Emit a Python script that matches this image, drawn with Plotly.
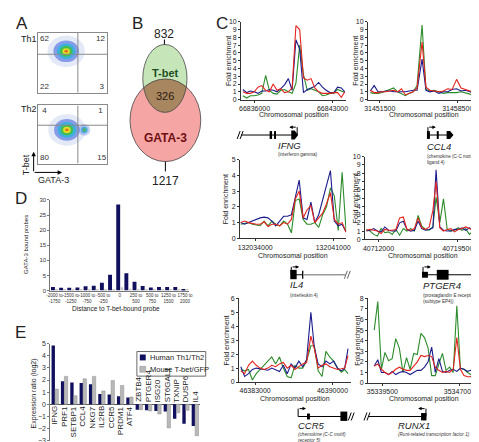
import numpy as np
import plotly.graph_objects as go

W, H = 479, 442
FONT = "Liberation Sans"


def X(p):
    return p / W


def Y(p):
    return 1 - p / H


# ---------------------------------------------------------------- data
# A: flow cytometry quadrant percentages (UL, UR, LL, LR)
th1_quadrants = [62, 12, 22, 3]
th2_quadrants = [4, 1, 80, 15]

# B: Venn counts
venn_tbet_only = 832
venn_overlap = 326
venn_gata3_only = 1217

# C: ChIP-chip fold enrichment (blue / red / green replicates)
ifng_pos = [66834950, 66835290, 66835630, 66835970, 66836310, 66836650, 66836990, 66837330,
            66837670, 66838010, 66838350, 66838690, 66839030, 66839370, 66839710, 66840050,
            66840390, 66840730, 66841070, 66841410, 66841750, 66842090, 66842430, 66842770,
            66843110, 66843450, 66843790, 66844100]
ifng_blue = [1.3, 0.9, 1.1, 1.0, 0.8, 1.1, 1.1, 1.3, 1.2, 1.0, 1.4, 1.9, 2.7, 1.2, 7.7, 6.5,
             0.9, 1.3, 1.5, 1.7, 2.2, 1.6, 1.2, 0.9, 0.9, 1.6, 1.5, 1.0]
ifng_red = [1.0, 0.8, 0.8, 1.0, 1.6, 1.8, 1.2, 1.0, 2.0, 1.2, 1.4, 0.9, 1.0, 1.5, 9.5, 9.0,
            2.8, 2.5, 2.7, 1.5, 1.0, 0.8, 0.8, 0.8, 0.9, 0.9, 0.3, 1.0]
ifng_green = [0.5, 0.2, 0.5, 0.5, 0.6, 0.8, 3.1, 1.2, 0.8, 0.7, 1.2, 1.3, 1.0, 0.8, 2.1, 7.0,
              3.2, 1.2, 1.4, 1.2, 1.0, 0.5, 0.6, 0.8, 0.8, 1.3, 1.1, 0.9]

ccl4_pos = [31450650, 31451000, 31451350, 31451700, 31452050, 31452400, 31452750, 31453100,
            31453450, 31453800, 31454150, 31454500, 31454850, 31455300, 31455650, 31456000,
            31456400, 31456800, 31457200, 31457600, 31458000, 31458400, 31458800, 31459200,
            31459600, 31460000, 31460400]
ccl4_blue = [1.1, 1.8, 1.0, 1.0, 1.1, 1.1, 1.0, 1.0, 1.0, 1.0, 1.1, 1.2, 1.2, 5.2, 1.2, 1.0,
             1.1, 0.8, 1.0, 1.0, 1.3, 1.4, 1.1, 1.2, 1.0, 0.8, 1.0]
ccl4_red = [1.2, 0.9, 0.9, 1.0, 1.0, 1.1, 1.2, 1.0, 1.4, 0.6, 0.8, 1.0, 1.5, 7.4, 1.6, 1.2,
            1.1, 1.0, 1.1, 1.4, 1.3, 2.6, 1.5, 1.3, 1.0, 0.9, 1.2]
ccl4_green = [0.9, 0.8, 0.8, 0.9, 1.1, 1.3, 1.5, 1.0, 0.8, 0.5, 0.8, 1.0, 1.8, 9.6, 1.3, 1.1,
              1.2, 1.0, 0.8, 0.9, 0.9, 0.9, 1.0, 0.8, 0.7, 0.6, 0.3]

il4_pos = [132032700, 132033050, 132033400, 132033750, 132034100, 132034450, 132034800,
           132035150, 132035500, 132035850, 132036200, 132036550, 132036900, 132037250,
           132037600, 132037950, 132038300, 132038650, 132039000, 132039350, 132039700,
           132040050, 132040400, 132040750, 132041100, 132041450, 132041800, 132042150]
il4_blue = [1.0, 0.9, 1.0, 1.1, 1.2, 1.3, 1.35, 1.3, 1.1, 0.8, 1.1, 1.4, 1.4, 1.5, 2.6, 3.7,
            1.3, 1.2, 2.3, 1.0, 1.5, 2.5, 3.4, 4.3, 1.1, 0.8, 0.9, 0.4]
il4_red = [1.0, 1.1, 1.0, 0.95, 0.9, 0.9, 1.05, 0.75, 0.9, 0.9, 0.8, 1.0, 0.9, 1.2, 2.5, 3.0,
           1.3, 1.8, 2.1, 1.0, 1.3, 1.6, 2.2, 2.9, 1.2, 0.9, 1.0, 0.4]
il4_green = [0.9, 0.95, 1.0, 0.9, 0.85, 0.8, 1.1, 0.8, 1.1, 0.9, 0.8, 1.1, 0.9, 0.35, 2.4, 2.5,
             1.2, 0.9, 0.9, 1.0, 0.7, 1.5, 2.0, 3.2, 2.7, 0.5, 4.2, 0.5]

ptger4_pos = [40710850, 40711200, 40711550, 40711900, 40712250, 40712600, 40712950, 40713300,
              40713650, 40714000, 40714350, 40714700, 40715050, 40715400, 40715750, 40716100,
              40716450, 40716800, 40717150, 40717450, 40717800, 40718150, 40718500, 40718850,
              40719200, 40719550, 40719900, 40720250, 40720600, 40720950, 40721300]
ptger4_blue = [1.0, 1.1, 1.3, 1.0, 0.9, 1.5, 1.1, 1.0, 1.0, 2.0, 2.2, 1.2, 1.0, 1.1, 2.2, 1.3,
               1.1, 1.2, 1.4, 8.4, 1.5, 1.1, 1.0, 1.0, 1.2, 1.2, 1.4, 1.1, 1.4, 1.2, 1.3]
ptger4_red = [1.1, 1.2, 1.1, 1.0, 0.7, 1.2, 1.1, 1.1, 1.2, 2.6, 2.7, 1.2, 1.1, 1.3, 2.6, 1.4,
              1.2, 1.5, 3.5, 7.0, 1.4, 1.0, 1.2, 1.3, 0.9, 1.2, 1.3, 1.5, 1.3, 1.1, 1.4]
ptger4_green = [1.2, 1.0, 0.6, 0.4, 1.3, 0.8, 0.9, 0.6, 1.2, 0.5, 1.3, 1.0, 1.3, 1.0, 2.9, 1.6,
                1.2, 1.1, 1.5, 5.1, 2.0, 4.9, 1.2, 1.0, 1.1, 1.4, 1.1, 1.3, 0.6, 1.0, 0.5]

ccr5_pos = [46381700, 46382050, 46382400, 46382750, 46383100, 46383450, 46383800, 46384150,
            46384500, 46384850, 46385200, 46385550, 46385900, 46386250, 46386600, 46386950,
            46387300, 46387650, 46388040, 46388350, 46388700, 46389050, 46389400, 46389750,
            46390100, 46390450, 46390800, 46391100, 46391400]
ccr5_blue = [1.1, 0.4, 0.6, 0.9, 1.0, 0.95, 0.9, 0.85, 1.0, 0.9, 0.75, 1.2, 0.6, 1.3, 1.0, 1.5,
             1.1, 1.6, 5.0, 2.5, 1.3, 1.1, 1.5, 1.3, 1.5, 1.0, 0.8, 1.0, 2.4]
ccr5_red = [0.8, 0.6, 1.2, 1.5, 1.2, 1.0, 0.9, 1.0, 1.2, 1.1, 1.3, 1.4, 1.0, 1.2, 0.9, 1.1,
            1.3, 1.4, 3.3, 2.4, 1.0, 1.2, 1.3, 1.1, 1.0, 0.9, 0.95, 1.0, 1.9]
ccr5_green = [0.9, 0.8, 0.9, 0.15, 0.6, 0.9, 1.2, 1.5, 1.8, 1.3, 1.8, 1.0, 0.4, 0.3, 1.2, 1.0,
              1.0, 1.5, 2.6, 2.6, 0.8, 0.4, 2.2, 1.8, 1.5, 1.0, 0.7, 0.9, 0.6]

runx1_pos = [35338700, 35339050, 35339400, 35339750, 35340100, 35340450, 35340800, 35341150,
             35341500, 35341850, 35342200, 35342550, 35342900, 35343250, 35343600, 35343950,
             35344300, 35344650, 35345000, 35345350, 35345700, 35346050, 35346400, 35346750,
             35347100, 35347450, 35347800, 35348100, 35348400, 35348700]
runx1_blue = [1.6, 2.2, 1.0, 1.0, 0.8, 1.1, 0.8, 1.0, 1.1, 1.0, 0.8, 1.0, 1.2, 1.2, 1.5, 2.0,
              3.4, 1.0, 2.3, 1.1, 1.0, 1.2, 1.3, 1.1, 1.4, 1.3, 1.1, 1.2, 1.0, 1.0]
runx1_red = [1.6, 1.8, 1.3, 1.0, 0.8, 1.0, 1.3, 1.5, 1.3, 1.2, 1.2, 1.6, 2.0, 2.6, 2.5, 2.6,
             2.5, 1.5, 1.2, 1.0, 1.1, 1.0, 1.3, 4.3, 1.3, 0.7, 0.6, 0.6, 0.9, 1.0]
runx1_green = [5.0, 7.7, 1.3, 2.9, 2.1, 2.3, 4.2, 3.3, 1.0, 2.4, 1.3, 2.8, 2.7, 4.7, 4.3, 3.3,
               0.7, 0.7, 1.8, 2.8, 1.2, 1.5, 1.0, 7.3, 1.4, 1.3, 1.0, 0.8, 0.7, 0.5]

# D: distance histogram
d_bins = ["-2000 to -1750", "-1750 to -1500", "-1500 to -1250", "-1250 to -1000",
          "-1000 to -750", "-750 to -500", "-500 to -250", "-250 to 0", "0",
          "0 to 250", "250 to 500", "500 to 750", "750 to 1000", "1000 to 1250",
          "1250 to 1500", "1500 to 1750", "1750 to 2000"]
gata3_bound_pct = [1.2, 0.9, 0.9, 1.0, 1.4, 1.6, 2.6, 5.2, 28.5, 5.7, 2.9, 1.5, 1.0, 1.2, 1.2, 1.2, 0.5]
control_pct = [0.2, 0.2, 0.2, 0.2, 0.2, 0.2, 0.3, 0.3, 1.1, 0.6, 0.3, 0.2, 0.2, 0.2, 0.2, 0.2, 0.2]
d_tick_labels = ["-2000 to<br>-1750", "-1500 to<br>-1250", "-1000 to<br>-750", "-500 to<br>-250", "0",
                 "250 to<br>500", "500 to<br>750", "1250 to<br>1500", "1750 to<br>2000"]

# E: expression ratios
e_genes = ["IFNG", "PRF1", "SETBP1", "CCL4", "NKG7", "IL2RB", "CCR5", "PRDM1", "ATF4",
           "ZBTB4", "PTGER4", "ISG20", "ST6GAL1", "TXNIP", "DUSP6", "IL4"]
human_th1_th2 = [4.85, 1.9, 1.8, 1.75, 1.65, 0.85, 0.8, 0.65, 0.55,
                 -0.45, -0.5, -0.55, -0.6, -1.2, -1.6, -1.8]
mouse_tbet_gfp = [1.25, 2.3, 0.7, 2.1, 2.3, 1.1, 1.95, 1.55, 0.6,
                  -0.45, -0.55, -0.8, -1.95, -0.7, -0.5, -2.6]

# ---------------------------------------------------------------- styles
BLUE, RED, GREEN = "#1c1c8c", "#e3241d", "#2b8c2b"
NAVY, GRAY = "#10105f", "#b8b8b8"

fig = go.Figure()
layout = dict(width=W, height=H, margin=dict(l=0, r=0, t=0, b=0),
              paper_bgcolor="white", plot_bgcolor="white", showlegend=False,
              font=dict(family=FONT, color="#222"))
shapes, anns = [], []


def ann(x, y, text, size=7, xanchor="center", yanchor="middle", angle=0, color="#222"):
    return dict(x=X(x), y=Y(y), xref="paper", yref="paper", text=text, showarrow=False,
                xanchor=xanchor, yanchor=yanchor, textangle=angle, borderpad=0,
                font=dict(size=size, color=color, family=FONT))


def arrow(xh, yh, xt, yt, size=0.8):
    return dict(x=X(xh), y=Y(yh), xref="paper", yref="paper", ax=xt - xh, ay=yt - yh,
                axref="pixel", ayref="pixel", showarrow=True, arrowhead=2, arrowsize=size,
                arrowwidth=1, arrowcolor="black", text="")


def seg(x0, y0, x1, y1, color="black", w=1):
    shapes.append(dict(type="line", xref="paper", yref="paper", x0=X(x0), y0=Y(y0),
                       x1=X(x1), y1=Y(y1), line=dict(color=color, width=w)))


def box(x0, y0, x1, y1, fill="black"):
    shapes.append(dict(type="rect", xref="paper", yref="paper", x0=X(x0), y0=Y(y0),
                       x1=X(x1), y1=Y(y1), fillcolor=fill, line=dict(width=0)))


def poly(pts, fill="black"):
    path = "M " + " L ".join(f"{X(a):.5f},{Y(b):.5f}" for a, b in pts) + " Z"
    shapes.append(dict(type="path", xref="paper", yref="paper", path=path,
                       fillcolor=fill, line=dict(width=0)))


def brk(x, y, color="black"):
    seg(x - 2, y + 4, x + 1, y - 4, color)
    seg(x + 1, y + 4, x + 4, y - 4, color)


def tss(x, y, d):
    seg(x, y, x, y - 8)
    anns.append(arrow(x + d * 8, y - 8, x, y - 8, size=0.7))


# ---------------------------------------------------------------- A
def flow_panel(n, top, bottom, quad, hline, blobs):
    xk = "xaxis" if n == 1 else f"xaxis{n}"
    yk = "yaxis" if n == 1 else f"yaxis{n}"
    xr = "x" if n == 1 else f"x{n}"
    yr = "y" if n == 1 else f"y{n}"
    layout[xk] = dict(domain=[X(26), X(97)], range=[0, 1], anchor=yr,
                      showline=True, mirror=True, linecolor="#8a8a8a", linewidth=1,
                      showticklabels=False, ticks="", showgrid=False, zeroline=False)
    layout[yk] = dict(domain=[Y(bottom), Y(top)], range=[0, 1], anchor=xr,
                      showline=True, mirror=True, linecolor="#8a8a8a", linewidth=1,
                      showticklabels=False, ticks="", showgrid=False, zeroline=False)
    hpx = bottom - top
    for cx, cy, layers in blobs:
        for rxp, ryp, col in layers:
            shapes.append(dict(type="circle", xref=xr, yref=yr,
                               x0=cx - rxp / 71, x1=cx + rxp / 71,
                               y0=cy - ryp / hpx, y1=cy + ryp / hpx,
                               fillcolor=col, line=dict(width=0), layer="below"))
    shapes.append(dict(type="line", xref=xr, yref=yr, x0=0.577, x1=0.577, y0=0, y1=1,
                       line=dict(color="#8a8a8a", width=1)))
    shapes.append(dict(type="line", xref=xr, yref=yr, x0=0, x1=1, y0=hline, y1=hline,
                       line=dict(color="#8a8a8a", width=1)))
    fig.add_trace(go.Scatter(
        x=[0.1, 0.9, 0.1, 0.92], y=[0.9, 0.9, 0.09, 0.09], mode="text",
        text=[str(v) for v in quad], textfont=dict(size=8, color="#333", family=FONT),
        xaxis=xr, yaxis=yr, hoverinfo="skip"))


blob_layers = [(19, 16, "rgba(90,120,210,0.16)"), (13, 11, "rgba(40,80,215,0.5)"),
               (9.5, 8, "rgba(50,180,220,0.9)"), (6.5, 5.5, "rgba(70,190,70,0.95)"),
               (3.8, 3.2, "rgba(225,225,40,1)"), (1.8, 1.5, "rgba(230,110,30,1)")]
side_layers = [(6, 6, "rgba(60,100,220,0.3)"), (3.5, 3.5, "rgba(50,170,220,0.8)"),
               (1.8, 1.8, "rgba(80,190,80,0.9)")]
flow_panel(1, 21, 82, th1_quadrants, 0.64, [(0.41, 0.69, blob_layers)])
flow_panel(2, 95, 154, th2_quadrants, 0.66,
           [(0.67, 0.58, side_layers), (0.42, 0.58, blob_layers)])

anns += [ann(10, 12, "A", 17), ann(17, 27, "Th1", 9), ann(17, 99, "Th2", 9),
         ann(14, 155, "T-bet", 9, angle=-90), ann(42, 171, "GATA-3", 9),
         arrow(22, 142, 22, 163, 0.9), arrow(51, 163, 22, 163, 0.9)]

# ---------------------------------------------------------------- B (Venn)
t = np.linspace(0, 2 * np.pi, 721)
g_c, g_r = (155.5, 67.5), (22.5, 34.5)
r_c, r_r = (156.0, 110.0), (36.0, 42.0)
gx, gy = g_c[0] + g_r[0] * np.cos(t), g_c[1] + g_r[1] * np.sin(t)
rx, ry = r_c[0] + r_r[0] * np.cos(t), r_c[1] + r_r[1] * np.sin(t)
in_red = ((gx - r_c[0]) / r_r[0]) ** 2 + ((gy - r_c[1]) / r_r[1]) ** 2 <= 1
in_green = ((rx - g_c[0]) / g_r[0]) ** 2 + ((ry - g_c[1]) / g_r[1]) ** 2 <= 1
lx = np.concatenate([gx[in_red], rx[in_green]])
ly = np.concatenate([gy[in_red], ry[in_green]])
order = np.argsort(np.arctan2(ly - ly.mean(), lx - lx.mean()))


def ellipse(c, r, fill, line_w=0.0):
    shapes.append(dict(type="circle", xref="paper", yref="paper",
                       x0=X(c[0] - r[0]), x1=X(c[0] + r[0]),
                       y0=Y(c[1] + r[1]), y1=Y(c[1] - r[1]),
                       fillcolor=fill, line=dict(color="#444", width=line_w)))


ellipse(r_c, r_r, "#f6a5a5")
ellipse(g_c, g_r, "#c6e6b9")
poly(list(zip(lx[order], ly[order])), fill="#a8865f")
ellipse(r_c, r_r, "rgba(0,0,0,0)", 0.8)
ellipse(g_c, g_r, "rgba(0,0,0,0)", 0.8)
seg(155, 28, 155, 33)
seg(156, 152, 156, 162)
anns += [ann(128, 12, "B", 17),
         ann(155, 22, str(venn_tbet_only), 12),
         ann(156, 62, "<b>T-bet</b>", 11, color="#1d4d1d"),
         ann(156, 85, str(venn_overlap), 11, color="#2a1a10"),
         ann(156, 128, "<b>GATA-3</b>", 12, color="#6e0f12"),
         ann(156, 172, str(venn_gata3_only), 12)]

# ---------------------------------------------------------------- C
panels = [
    (ifng_pos, ifng_blue, ifng_red, ifng_green, [66834791, 66844236], [66836000, 66843000], 10, (233, 340), (10, 89), 220, 105),
    (ccl4_pos, ccl4_blue, ccl4_red, ccl4_green, [31450440, 31460595], [31451500, 31458500], 10, (362, 477), (10, 89), 350, 105),
    (il4_pos, il4_blue, il4_red, il4_green, [132032650, 132042176], [132034000, 132041000], 5, (232, 340), (150, 230), 218, 248),
    (ptger4_pos, ptger4_blue, ptger4_red, ptger4_green, [40710726, 40721611], [40712000, 40719500], 10, (359, 476), (147, 231), 349, 248),
    (ccr5_pos, ccr5_blue, ccr5_red, ccr5_green, [46381551, 46391691], [46383000, 46390000], 6, (231, 345), (291, 376), 218, 393),
    (runx1_pos, runx1_blue, runx1_red, runx1_green, [35338092, 35349109], [35339500, 35347000], 8, (362, 477), (291, 377), 352, 393),
]
for k, (pos, b, r, g, xr, tv, ymax, dx, dy, ytx, xty) in enumerate(panels):
    n = 3 + k
    for ys, col in ((g, GREEN), (b, BLUE), (r, RED)):
        fig.add_trace(go.Scatter(x=pos, y=ys, mode="lines", line=dict(color=col, width=1.1),
                                 xaxis=f"x{n}", yaxis=f"y{n}", hoverinfo="skip"))
    layout[f"xaxis{n}"] = dict(domain=[X(dx[0]), X(dx[1])], range=xr, anchor=f"y{n}",
                               tickvals=tv, ticktext=[str(v) for v in tv],
                               showline=True, linecolor="#333", linewidth=1, ticks="outside",
                               ticklen=2, tickcolor="#333", tickfont=dict(size=7, color="#222"),
                               showgrid=False, zeroline=False)
    layout[f"yaxis{n}"] = dict(domain=[Y(dy[1]), Y(dy[0])], range=[0, ymax], anchor=f"x{n}",
                               tickvals=list(range(0, ymax + 1)),
                               showline=True, linecolor="#333", linewidth=1, ticks="outside",
                               ticklen=2, tickcolor="#333", tickfont=dict(size=7, color="#222"),
                               showgrid=False, zeroline=False)
    anns.append(ann(ytx, (dy[0] + dy[1]) / 2, "Fold enrichment", 7, angle=-90))
    anns.append(ann((dx[0] + dx[1]) / 2, xty, "Chromosomal position", 7))
anns.append(ann(214, 12, "C", 17))

# gene structures
brk(231, 125)
seg(233, 125, 286, 125)
box(262, 121, 264.5, 129)
box(266.5, 121, 268.5, 129)
poly([(284, 120.5), (287.5, 120.5), (291, 125), (287.5, 129.5), (284, 129.5)])
tss(290, 125, -1)

tss(423, 125, 1)
seg(423, 125, 444, 125)
box(422, 121, 425, 129)
box(432, 121, 434, 129)
poly([(442, 121), (445.5, 121), (449, 125), (445.5, 129), (442, 129)])

tss(284, 267, 1)
box(283, 262, 289.5, 271.5)
seg(289, 267, 296, 267)
box(295, 263, 296.3, 271)
seg(296, 267, 339, 267, color="#9a9a9a", w=1.5)
brk(340, 267, "#666")

tss(418, 267, 1)
box(417, 264, 423, 270)
seg(423, 267, 469, 267)
box(432, 262, 444, 272)
brk(471, 267)

tss(291, 411, 1)
seg(291, 411, 335, 411)
box(300, 408, 303, 414)
box(334, 406, 341, 415.5)
brk(344, 411)

brk(360, 411)
seg(363, 411, 421, 411)
box(416, 407.5, 421.5, 415)
tss(421, 411, -1)

gene_text = [
    (270, 136, "IFNG", 141, "(interferon gamma)"),
    (421, 137, "CCL4", 143, "(chemokine (C-C motif)<br>ligand 4)"),
    (282, 277, "IL4", 284, "(interleukin 4)"),
    (417, 278, "PTGER4", 284, "(prostaglandin E receptor -<br>(subtype EP4))"),
    (290, 420, "CCR5", 425.5, "<i>(chemokine (C-C motif)<br>receptor 5)</i>"),
    (392, 420, "RUNX1", 425.5, "<i>(Runt-related transcription factor 1)</i>"),
]
for x0, y0, name, ys, sub in gene_text:
    anns.append(ann(x0, y0, f"<i>{name}</i>", 9.5, xanchor="left"))
    a = ann(x0, ys, sub, 4.6, xanchor="left", yanchor="top", color="#333")
    a["align"] = "left"
    anns.append(a)

# ---------------------------------------------------------------- D
fig.add_trace(go.Bar(x=d_bins, y=gata3_bound_pct, marker=dict(color=NAVY, line=dict(width=0)),
                     width=0.48, offset=-0.42, xaxis="x9", yaxis="y9", hoverinfo="skip"))
fig.add_trace(go.Bar(x=d_bins, y=control_pct, marker=dict(color="#c8c8c8", line=dict(width=0)),
                     width=0.36, offset=0.08, xaxis="x9", yaxis="y9", hoverinfo="skip"))
layout["xaxis9"] = dict(domain=[X(39), X(180)], type="category", range=[-0.5, 16.5],
                        anchor="y9", tickvals=d_bins[::2], ticktext=d_tick_labels,
                        tickangle=0, tickfont=dict(size=4.5, color="#333"),
                        showline=True, linecolor="#777", linewidth=1, ticks="",
                        showgrid=False, zeroline=False)
layout["yaxis9"] = dict(domain=[Y(283), Y(191)], range=[0, 30], anchor="x9",
                        tickvals=[0, 5, 10, 15, 20, 25, 30], ticksuffix="%",
                        tickfont=dict(size=6, color="#333"), showline=True,
                        linecolor="#777", linewidth=1, ticks="outside", ticklen=2,
                        tickcolor="#777", showgrid=False, zeroline=False)
anns += [ann(9, 190, "D", 17), ann(15, 236, "GATA-3 bound probes", 6, angle=-90),
         ann(106, 302, "Distance to T-bet-bound probe", 6.5)]

# ---------------------------------------------------------------- E
fig.add_trace(go.Bar(x=e_genes, y=human_th1_th2, name="Human Th1/Th2",
                     marker=dict(color=NAVY, line=dict(width=0)),
                     width=0.36, offset=-0.37, xaxis="x10", yaxis="y10", hoverinfo="skip"))
fig.add_trace(go.Bar(x=e_genes, y=mouse_tbet_gfp, name="Mouse T-bet/GFP",
                     marker=dict(color=GRAY, line=dict(color="#8c8c8c", width=0.5)),
                     width=0.36, offset=0.0, xaxis="x10", yaxis="y10", hoverinfo="skip"))
layout["xaxis10"] = dict(domain=[X(39), X(191)], type="category", range=[-0.5, 15.5],
                         anchor="y10", visible=False)
layout["yaxis10"] = dict(domain=[Y(435.5), Y(337)], range=[-3, 5], anchor="x10",
                         tickvals=list(range(-3, 6)), tickfont=dict(size=7, color="#333"),
                         showline=True, linecolor="#777", linewidth=1, ticks="outside",
                         ticklen=2, tickcolor="#777", showgrid=False,
                         zeroline=True, zerolinecolor="#555", zerolinewidth=1)
for gname, hv in zip(e_genes, human_th1_th2):
    pos_side = hv > 0
    anns.append(dict(x=gname, y=0, xref="x10", yref="y10", text=gname, showarrow=False,
                     textangle=-90, xanchor="center", borderpad=0,
                     yanchor="top" if pos_side else "bottom",
                     yshift=-1 if pos_side else 1,
                     font=dict(size=8, color="#222", family=FONT)))
anns += [ann(9, 326, "E", 17), ann(22, 388, "Expression ratio (log2)", 7, angle=-90)]
# legend (manual)
shapes.append(dict(type="rect", xref="paper", yref="paper", x0=X(127), x1=X(197),
                   y0=Y(370), y1=Y(345), line=dict(color="#444", width=0.8),
                   fillcolor="white"))
box(130, 348, 136, 354, NAVY)
shapes.append(dict(type="rect", xref="paper", yref="paper", x0=X(130), x1=X(136),
                   y0=Y(366), y1=Y(360), fillcolor=GRAY, line=dict(color="#888", width=0.5)))
anns += [ann(139, 351, "Human Th1/Th2", 7.5, xanchor="left"),
         ann(139, 363, "Mouse T-bet/GFP", 7.5, xanchor="left")]

layout["shapes"] = shapes
layout["annotations"] = anns
fig.update_layout(**layout)
fig.write_html("out.html")
